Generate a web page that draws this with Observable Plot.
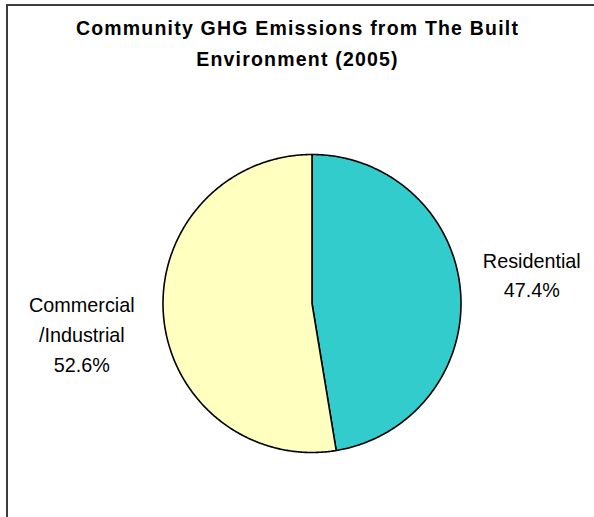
<!DOCTYPE html>
<html>
<head>
<meta charset="utf-8">
<script src="https://cdn.jsdelivr.net/npm/d3@7"></script>
<script src="https://cdn.jsdelivr.net/npm/@observablehq/plot@0.6"></script>
<style>
  html, body { margin: 0; padding: 0; background: #fff; }
  #wrap { position: relative; width: 594px; height: 517px; overflow: hidden; }
  #frame { position: absolute; left: 6px; top: 4px; right: -4px; bottom: -4px;
           border-top: 2px solid #3c3c3c; border-left: 2px solid #3c3c3c; pointer-events: none; }
  .ttl text { letter-spacing: 1.2px; }
</style>
</head>
<body>
<div id="wrap"><div id="frame"></div></div>
<script>
const title = "Community GHG Emissions from The Built\nEnvironment (2005)";
const categories = ["Residential", "Commercial\n/Industrial"];
const values = [47.4, 52.6];
const colors = ["#33CCCC", "#FFFFC0"];

// build slice outlines (angles from the values, clockwise from 12 o'clock)
const total = d3.sum(values);
const rows = [];
const labels = [];
let start = 0;
categories.forEach((c, i) => {
  const a0 = start, a1 = start + values[i] / total * 2 * Math.PI;
  rows.push({cat: c, x: 0, y: 0});
  const n = Math.max(2, Math.ceil((a1 - a0) / (Math.PI / 360)));
  for (let k = 0; k <= n; k++) {
    const a = a0 + (a1 - a0) * k / n;
    rows.push({cat: c, x: Math.sin(a), y: Math.cos(a)});
  }
  rows.push({cat: c, x: 0, y: 0});
  const m = (a0 + a1) / 2;
  labels.push({cat: c, mid: m, text: c + "\n" + values[i].toFixed(1) + "%"});
  start = a1;
});

const font = "Liberation Sans, Arial, sans-serif";
const plot = Plot.plot({
  width: 594,
  height: 517,
  margin: 0,
  style: {fontFamily: font, background: "transparent", overflow: "visible"},
  x: {domain: [-1, 1], range: [162.5, 460.5], axis: null},
  y: {domain: [-1, 1], range: [452, 154], axis: null},
  color: {domain: categories, range: colors},
  marks: [
    Plot.line(rows, {x: "x", y: "y", z: "cat", fill: "cat", stroke: "#000", strokeWidth: 1.6, curve: "linear-closed"}),
    Plot.text([labels[0]], {x: d => 1.48 * Math.sin(d.mid), y: d => 1.48 * Math.cos(d.mid), text: "text",
      fontSize: 19.8, lineHeight: 1.42, fill: "#000", dy: -12}),
    Plot.text([labels[1]], {x: d => 1.55 * Math.sin(d.mid), y: d => 1.55 * Math.cos(d.mid), text: "text",
      fontSize: 19.8, lineHeight: 1.5, fill: "#000", dy: 10}),
    Plot.text([title], {frameAnchor: "top", text: d => d, dy: 12, dx: 0, fontSize: 19.5, fontWeight: "bold",
      lineHeight: 1.6, lineAnchor: "top", fill: "#000", className: "ttl"})
  ]
});
document.getElementById("wrap").prepend(plot);
</script>
</body>
</html>
